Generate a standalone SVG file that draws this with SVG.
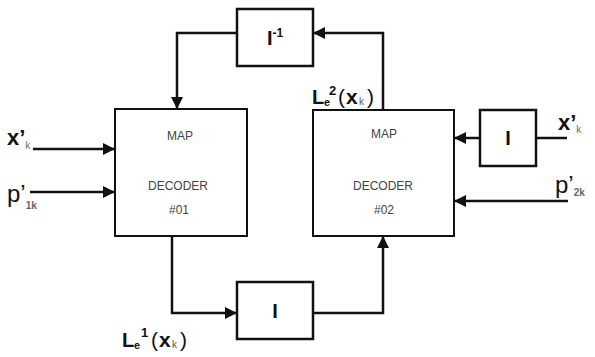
<svg xmlns="http://www.w3.org/2000/svg" width="595" height="357" viewBox="0 0 595 357">
<style>
.box{fill:#fff;stroke:#111;stroke-width:2}
.ibox{fill:#fff;stroke:#111;stroke-width:2.5}
.wire{fill:none;stroke:#111;stroke-width:2.5}
.in{font-family:"Liberation Sans",Arial,sans-serif;font-size:12px;fill:#444;text-anchor:middle}
.ilab{font-family:"Liberation Sans",Arial,sans-serif;font-size:20px;font-weight:bold;fill:#111;text-anchor:middle}
.lab{font-family:"Liberation Sans",Arial,sans-serif;fill:#111}
.sub{fill:#666;font-size:10px}
</style>
<defs>
<marker id="ah" markerUnits="userSpaceOnUse" markerWidth="12" markerHeight="12" refX="11" refY="6" orient="auto">
<path d="M0,0 L12,6 L0,12 z" fill="#111"/>
</marker>
</defs>
<g id="connectors">
<path class="wire" d="M383,110 V33 H314" marker-end="url(#ah)"/>
<path class="wire" d="M237,33 H177 V108" marker-end="url(#ah)"/>
<path class="wire" d="M172,236 V313 H236" marker-end="url(#ah)"/>
<path class="wire" d="M313,313 H383 V237" marker-end="url(#ah)"/>
<path class="wire" d="M480,138 H455" marker-end="url(#ah)"/>
<path class="wire" d="M536,138 H567"/>
<path class="wire" d="M568,201 H455" marker-end="url(#ah)"/>
<path class="wire" d="M33,149 H114" marker-end="url(#ah)"/>
<path class="wire" d="M30,192 H114" marker-end="url(#ah)"/>
</g>
<g id="decoder1">
<rect class="box" x="115" y="109" width="132" height="127"/>
<text class="in" x="180" y="140">MAP</text>
<text class="in" x="178" y="190">DECODER</text>
<text class="in" x="179" y="214">#01</text>
</g>
<g id="decoder2">
<rect class="box" x="313" y="110" width="141" height="126"/>
<text class="in" x="384" y="138">MAP</text>
<text class="in" x="383" y="190">DECODER</text>
<text class="in" x="384" y="214">#02</text>
</g>
<g id="deinterleaver">
<rect class="ibox" x="237" y="9" width="76" height="57"/>
<text class="ilab" x="275" y="45">I<tspan font-size="12" dy="-8">-1</tspan></text>
</g>
<g id="interleaver-right">
<rect class="ibox" x="480" y="110" width="56" height="56"/>
<text class="ilab" x="508" y="145" font-weight="normal">I</text>
</g>
<g id="interleaver-bottom">
<rect class="ibox" x="237" y="282" width="76" height="57"/>
<text class="ilab" x="275" y="318">I</text>
</g>
<g id="labels">
<text class="lab" x="7" y="145" font-size="22" font-weight="bold">x’<tspan class="sub" dy="4" font-weight="normal">k</tspan></text>
<text class="lab" x="7" y="202" font-size="24">p’<tspan class="sub" dy="7" font-size="11" font-weight="bold" fill="#333">1k</tspan></text>
<text class="lab" x="558" y="130" font-size="22" font-weight="bold">x’<tspan class="sub" dy="3" font-weight="normal">k</tspan></text>
<text class="lab" x="555" y="193" font-size="24">p’<tspan class="sub" dy="3" font-size="11" font-weight="bold" fill="#333">2k</tspan></text>
<text class="lab" font-size="20" font-weight="bold"><tspan x="312" y="104">L</tspan><tspan x="324" y="106" font-size="11">e</tspan><tspan x="329" y="95" font-size="13">2</tspan><tspan x="338" y="104" font-size="21" font-weight="normal">(</tspan><tspan x="346" y="104" font-size="21">x</tspan><tspan x="359" y="105" font-size="10" font-weight="normal" fill="#555">k</tspan><tspan x="367" y="104" font-size="21" font-weight="normal">)</tspan></text>
<text class="lab" font-size="20" font-weight="bold"><tspan x="122" y="347">L</tspan><tspan x="134" y="349" font-size="11">e</tspan><tspan x="141" y="337" font-size="13">1</tspan><tspan x="151" y="347" font-size="21" font-weight="normal">(</tspan><tspan x="159" y="347" font-size="21">x</tspan><tspan x="172" y="348" font-size="10" font-weight="normal" fill="#555">k</tspan><tspan x="180" y="347" font-size="21" font-weight="normal">)</tspan></text>
</g>
</svg>
